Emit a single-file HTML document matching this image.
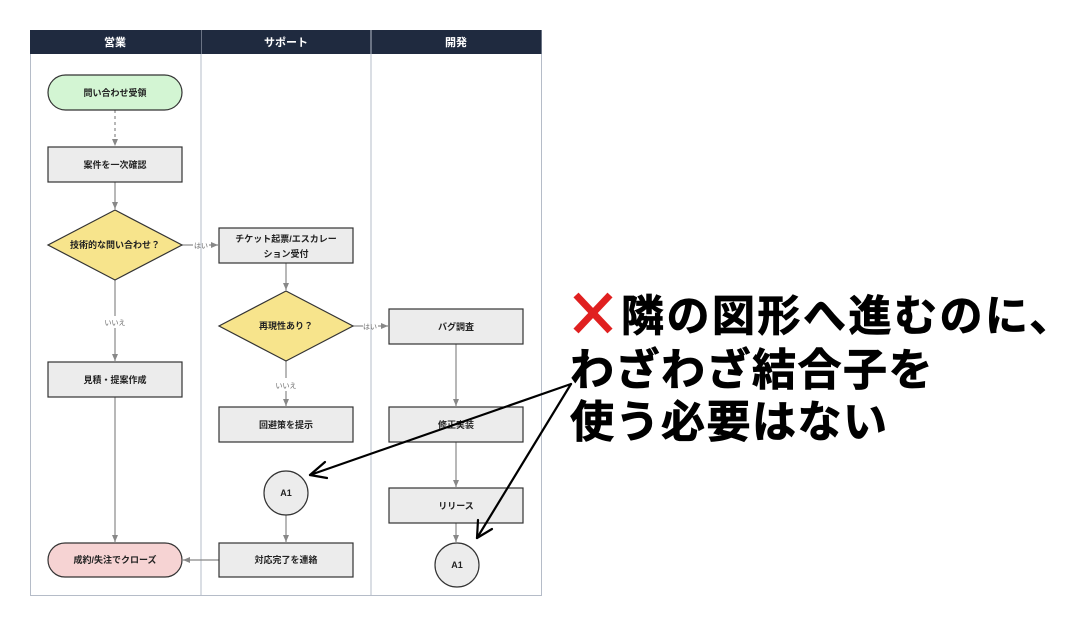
<!DOCTYPE html>
<html><head><meta charset="utf-8"><style>
html,body{margin:0;padding:0;background:#fff;}
svg text{font-family:"Liberation Sans","Noto Sans CJK JP",sans-serif;}
</style></head><body>
<svg width="1074" height="630" viewBox="0 0 1074 630" xmlns="http://www.w3.org/2000/svg">
<defs>
<marker id="g" markerWidth="8" markerHeight="8" refX="7" refY="4" orient="auto" markerUnits="userSpaceOnUse"><path d="M0,1 L7,4 L0,7 z" fill="#888"/></marker>
</defs>
<rect width="1074" height="630" fill="#fff"/>
<rect x="30.5" y="30.5" width="511" height="565" fill="#fff" stroke="#b5bcc8"/>
<line x1="201" y1="30" x2="201" y2="596" stroke="#b5bcc8"/>
<line x1="371" y1="30" x2="371" y2="596" stroke="#b5bcc8"/>
<rect x="30" y="30" width="171" height="24" fill="#1f2a3f"/>
<rect x="201.5" y="30" width="169" height="24" fill="#1f2a3f"/>
<rect x="371.5" y="30" width="170" height="24" fill="#1f2a3f"/>
<g font-size="11" font-weight="bold" fill="#fff" text-anchor="middle">
<text x="115" y="46">営業</text><text x="286" y="46">サポート</text><text x="456" y="46">開発</text>
</g>
<g stroke="#888" stroke-width="1.2" fill="none">
<line x1="115" y1="110" x2="115" y2="146" stroke-dasharray="3,3" marker-end="url(#g)"/>
<line x1="115" y1="182" x2="115" y2="209" marker-end="url(#g)"/>
<line x1="182" y1="245" x2="193" y2="245"/>
<line x1="209" y1="245" x2="218" y2="245" marker-end="url(#g)"/>
<line x1="115" y1="280" x2="115" y2="316"/>
<line x1="115" y1="328" x2="115" y2="361" marker-end="url(#g)"/>
<line x1="115" y1="397" x2="115" y2="542" marker-end="url(#g)"/>
<line x1="286" y1="263" x2="286" y2="290" marker-end="url(#g)"/>
<line x1="353" y1="326" x2="363" y2="326"/>
<line x1="378" y1="326" x2="388" y2="326" marker-end="url(#g)"/>
<line x1="286" y1="361" x2="286" y2="378"/>
<line x1="286" y1="391" x2="286" y2="406" marker-end="url(#g)"/>
<line x1="286" y1="515" x2="286" y2="542" marker-end="url(#g)"/>
<line x1="219" y1="560" x2="183" y2="560" marker-end="url(#g)"/>
<line x1="456" y1="344" x2="456" y2="406" marker-end="url(#g)"/>
<line x1="456" y1="442" x2="456" y2="487" marker-end="url(#g)"/>
<line x1="456" y1="523" x2="456" y2="542" marker-end="url(#g)"/>
</g>
<g font-size="7" fill="#666" text-anchor="middle">
<text x="201" y="248">はい</text><text x="370" y="329">はい</text>
<text x="115" y="325">いいえ</text><text x="286" y="388">いいえ</text>
</g>
<g stroke="#333" stroke-width="1.2">
<rect x="48" y="75" width="134" height="35" rx="17.5" fill="#d3f5d3"/>
<rect x="48" y="147" width="134" height="35" fill="#ececec"/>
<polygon points="115,210 182,245 115,280 48,245" fill="#f7e48c"/>
<rect x="219" y="228" width="134" height="35" fill="#ececec"/>
<polygon points="286,291 353,326 286,361 219,326" fill="#f7e48c"/>
<rect x="389" y="309" width="134" height="35" fill="#ececec"/>
<rect x="48" y="362" width="134" height="35" fill="#ececec"/>
<rect x="219" y="407" width="134" height="35" fill="#ececec"/>
<rect x="389" y="407" width="134" height="35" fill="#ececec"/>
<circle cx="286" cy="493" r="22" fill="#ececec"/>
<rect x="389" y="488" width="134" height="35" fill="#ececec"/>
<circle cx="457" cy="565" r="22" fill="#ececec"/>
<rect x="48" y="543" width="134" height="34" rx="17" fill="#f6d3d3"/>
<rect x="219" y="543" width="134" height="34" fill="#ececec"/>
</g>
<g font-size="9" font-weight="bold" fill="#222" text-anchor="middle">
<text x="115" y="96">問い合わせ受領</text>
<text x="115" y="168">案件を一次確認</text>
<text x="115" y="248">技術的な問い合わせ？</text>
<text x="286" y="242">チケット起票/エスカレー</text>
<text x="286" y="257">ション受付</text>
<text x="286" y="329">再現性あり？</text>
<text x="456" y="330">バグ調査</text>
<text x="115" y="383">見積・提案作成</text>
<text x="286" y="428">回避策を提示</text>
<text x="456" y="428">修正実装</text>
<text x="286" y="496">A1</text>
<text x="456" y="509">リリース</text>
<text x="457" y="568">A1</text>
<text x="115" y="563">成約/失注でクローズ</text>
<text x="286" y="563">対応完了を連絡</text>
</g>
<g stroke="#000" stroke-width="2.2" fill="none" stroke-linecap="round" stroke-linejoin="round">
<line x1="571" y1="384" x2="310" y2="475"/>
<polyline points="325,462 310,475 327,478"/>
<line x1="571" y1="384" x2="477" y2="538"/>
<polyline points="478,520 477,538 492,529"/>
</g>
<g stroke="#e02020" stroke-width="7" stroke-linecap="butt">
<line x1="576" y1="295" x2="610" y2="331"/><line x1="610" y1="295" x2="576" y2="331"/>
</g>
<g font-weight="bold" fill="#000" stroke="#000" stroke-width="0.8">
<text x="621" y="331" font-size="43" letter-spacing="2.5">隣の図形へ進むのに、</text>
<text x="570" y="385" font-size="44" letter-spacing="1.5">わざわざ結合子を</text>
<text x="570" y="437" font-size="44" letter-spacing="1.5">使う必要はない</text>
</g>
</svg>
</body></html>
